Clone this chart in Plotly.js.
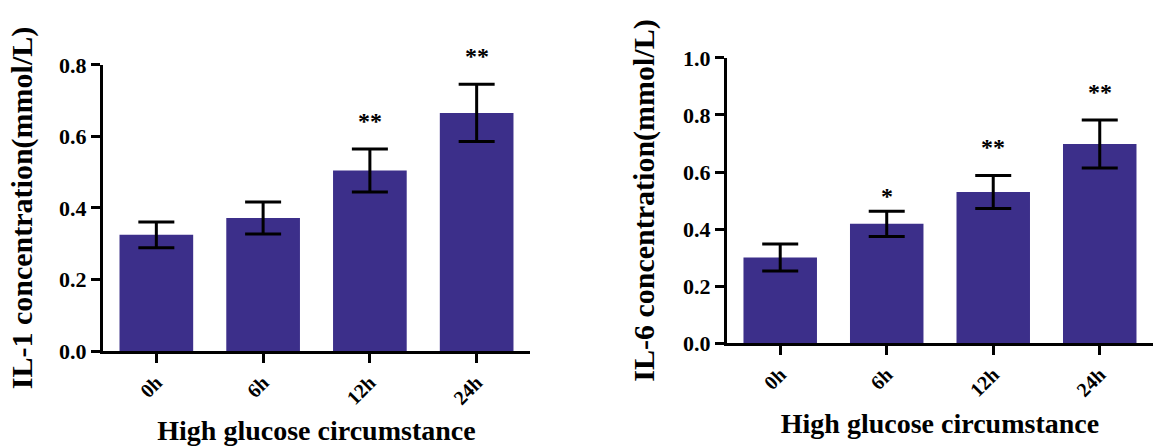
<!DOCTYPE html>
<html>
<head>
<meta charset="utf-8">
<script src="https://cdn.plot.ly/plotly-3.0.1.min.js"></script>
<style>
  html, body { margin: 0; padding: 0; background: #ffffff; }
  #chart { width: 1153px; height: 446px; }
</style>
</head>
<body>
<div id="chart"></div>
<script>
// ---- Data ----
const categories = ['0h', '6h', '12h', '24h'];
const il1Values = [0.325, 0.372, 0.505, 0.666];
const il1Errors = [0.036, 0.045, 0.060, 0.080];
const il1Signif = ['', '', '**', '**'];
const il6Values = [0.300, 0.418, 0.530, 0.698];
const il6Errors = [0.047, 0.044, 0.058, 0.084];
const il6Signif = ['', '*', '**', '**'];
const xTitle = 'High glucose circumstance';
const il1Title = 'IL-1 concentration(mmol/L)';
const il6Title = 'IL-6 concentration(mmol/L)';

// ---- Styles ----
const barColor = '#3c2f8a';
const FONT = 'Liberation Serif, Times New Roman, serif';

function barTrace(values, errors, xa, ya) {
  return {
    type: 'bar',
    x: categories,
    y: values,
    xaxis: xa,
    yaxis: ya,
    marker: { color: barColor, line: { width: 0 } },
    error_y: { type: 'data', array: errors, visible: true, color: '#000000', thickness: 3, width: 18 },
    hoverinfo: 'skip',
    showlegend: false
  };
}

function sigAnnotations(values, errors, signif, xref, yref) {
  const out = [];
  for (let i = 0; i < categories.length; i++) {
    if (!signif[i]) continue;
    out.push({
      x: categories[i], y: values[i] + errors[i],
      xref: xref, yref: yref,
      text: signif[i], showarrow: false,
      yanchor: 'bottom', yshift: signif[i].length === 1 ? 0 : 13,
      font: { family: FONT, size: 24, color: '#000000', weight: 'bold' }
    });
  }
  return out;
}

const xCommon = {
  type: 'category',
  range: [-0.5, 3.5],
  showline: true, linecolor: '#000000', linewidth: 3,
  ticks: 'outside', ticklen: 9, tickwidth: 3, tickcolor: '#000000',
  tickangle: -45,
  tickfont: { family: FONT, size: 20, color: '#000000', weight: 'bold' },
  showgrid: false, zeroline: false, automargin: false, fixedrange: true
};

const yCommon = {
  showline: true, linecolor: '#000000', linewidth: 3,
  ticks: 'outside', ticklen: 9, tickwidth: 3, tickcolor: '#000000',
  dtick: 0.2, tickformat: '.1f',
  tickfont: { family: FONT, size: 22, color: '#000000', weight: 'bold' },
  showgrid: false, zeroline: false, automargin: false, fixedrange: true
};

const layout = {
  width: 1153, height: 446,
  margin: { l: 0, r: 0, t: 0, b: 0 },
  paper_bgcolor: '#ffffff', plot_bgcolor: '#ffffff',
  bargap: 0.31,
  showlegend: false,
  xaxis: Object.assign({}, xCommon, {
    domain: [0.0893, 0.4597], anchor: 'y',
    title: { text: xTitle, font: { family: FONT, size: 28, color: '#000000', weight: 'bold' }, standoff: 14 }
  }),
  yaxis: Object.assign({}, yCommon, {
    domain: [0.2130, 0.8543], anchor: 'x', range: [0, 0.8],
    title: { text: il1Title, font: { family: FONT, size: 30, color: '#000000', weight: 'bold' }, standoff: 18 }
  }),
  xaxis2: Object.assign({}, xCommon, {
    domain: [0.6305, 1.0], anchor: 'y2',
    title: { text: xTitle, font: { family: FONT, size: 28, color: '#000000', weight: 'bold' }, standoff: 14 }
  }),
  yaxis2: Object.assign({}, yCommon, {
    domain: [0.2309, 0.8700], anchor: 'x2', range: [0, 1.0],
    title: { text: il6Title, font: { family: FONT, size: 30, color: '#000000', weight: 'bold' }, standoff: 20 }
  }),
  annotations: [].concat(
    sigAnnotations(il1Values, il1Errors, il1Signif, 'x', 'y'),
    sigAnnotations(il6Values, il6Errors, il6Signif, 'x2', 'y2')
  )
};

const data = [
  barTrace(il1Values, il1Errors, 'x', 'y'),
  barTrace(il6Values, il6Errors, 'x2', 'y2')
];

Plotly.newPlot('chart', data, layout, { displayModeBar: false, staticPlot: true });
</script>
</body>
</html>
